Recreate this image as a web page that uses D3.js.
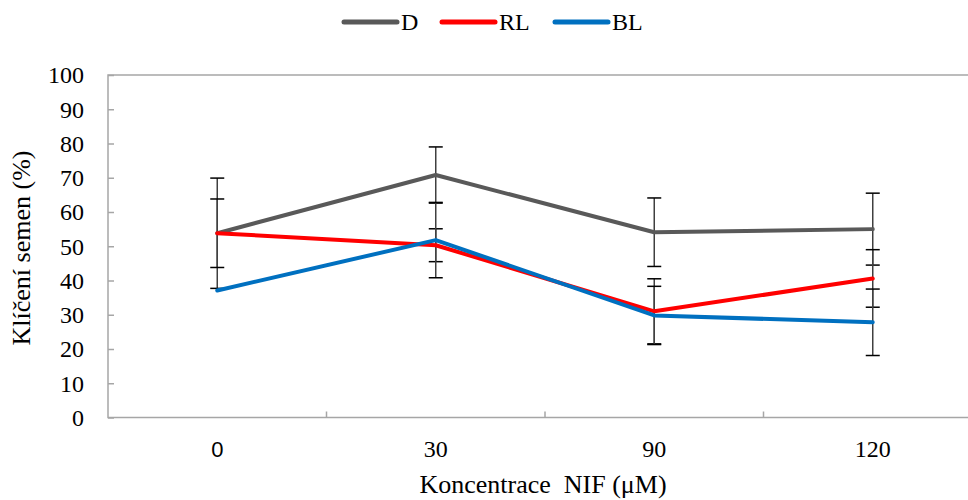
<!DOCTYPE html>
<html><head><meta charset="utf-8">
<script src="https://cdn.jsdelivr.net/npm/d3@7"></script>
<style>body{margin:0;background:#fff}svg{display:block}</style>
</head><body>
<svg id="c" width="968" height="500"></svg>
<script>
const categories = ["0", "30", "90", "120"];
const seriesNames = ["D", "RL", "BL"];
const valuesD  = [53.8, 70.8, 54.1, 55.0];
const valuesRL = [53.8, 50.3, 31.0, 40.6];
const valuesBL = [37.1, 51.8, 29.8, 27.8];
const errD  = [16.1, 8.2, 10.0, 10.5];
const errRL = [10.0, 4.8, 9.5, 8.4];
const errBL = [0, 11.0, 8.5, 9.7];
const yTicks = [0, 10, 20, 30, 40, 50, 60, 70, 80, 90, 100];
const colors = ["#595959", "#ff0000", "#0070c0"];

(function () {
const series = [
  {name: seriesNames[0], values: valuesD, err: errD, color: colors[0]},
  {name: seriesNames[1], values: valuesRL, err: errRL, color: colors[1]},
  {name: seriesNames[2], values: valuesBL, err: errBL, color: colors[2]}
];

const svg = d3.select("#c");
const pL = 108, pT = 75, pB = 417.5, pR = 982;
const font = "'Liberation Serif','Times New Roman',serif";

const x = d3.scaleBand().domain(categories).range([pL, pR]);
const y = d3.scaleLinear().domain([0, 100]).range([pB, pT]);

// frame
svg.append("path")
  .attr("d", `M${pR},${pT}H${pL}V${pB}H${pR}`)
  .attr("fill", "none").attr("stroke", "#a6a6a6").attr("stroke-width", 1.5);

// y axis
const yAxis = svg.append("g").attr("transform", `translate(${pL},0)`)
  .call(d3.axisRight(y).tickValues(yTicks).tickSize(6).tickFormat(""));
yAxis.select(".domain").remove();
yAxis.selectAll("line").attr("stroke", "#a6a6a6").attr("stroke-width", 1.5);
svg.append("g").selectAll("text").data(yTicks).join("text")
  .attr("x", 84).attr("y", d => y(d)).attr("dy", "0.35em")
  .attr("text-anchor", "end").attr("font-family", font).attr("font-size", 24)
  .attr("fill", "#000").text(d => d);

// x axis ticks between categories
const boundaries = categories.slice(1).map(c => x(c));
svg.append("g").selectAll("line").data(boundaries).join("line")
  .attr("x1", d => d).attr("x2", d => d).attr("y1", pB).attr("y2", pB - 6)
  .attr("stroke", "#a6a6a6").attr("stroke-width", 1.5);
svg.append("g").selectAll("text").data(categories).join("text")
  .attr("x", d => x(d) + x.bandwidth() / 2).attr("y", 457)
  .attr("text-anchor", "middle")
  .attr("font-family", (d, i) => i === 0 ? "'Liberation Sans',Arial,sans-serif" : font)
  .attr("font-size", (d, i) => i === 0 ? 22 : 24)
  .attr("fill", "#000").text(d => d);

const cx = c => x(c) + x.bandwidth() / 2;

// error bars
series.forEach(s => {
  const g = svg.append("g");
  s.values.forEach((v, i) => {
    if (!s.err[i]) return;
    const px = cx(categories[i]);
    g.append("line").attr("x1", px).attr("x2", px)
      .attr("y1", y(v + s.err[i])).attr("y2", y(v - s.err[i]))
      .attr("stroke", "#404040").attr("stroke-width", 1.5);
    [v + s.err[i], v - s.err[i]].forEach(e => {
      g.append("line").attr("x1", px - 7).attr("x2", px + 7)
        .attr("y1", y(e)).attr("y2", y(e))
        .attr("stroke", "#000").attr("stroke-width", 1.5);
    });
  });
});

// lines
const line = d3.line().x((d, i) => cx(categories[i])).y(d => y(d));
series.forEach(s => {
  svg.append("path").datum(s.values).attr("d", line)
    .attr("fill", "none").attr("stroke", s.color).attr("stroke-width", 4)
    .attr("stroke-linejoin", "round").attr("stroke-linecap", "round");
});

// axis titles
svg.append("text").attr("x", 543).attr("y", 493).attr("text-anchor", "middle")
  .attr("font-family", font).attr("font-size", 26).attr("fill", "#000")
  .attr("xml:space", "preserve").text("Koncentrace  NIF (μM)");
svg.append("text").attr("transform", "translate(30,248) rotate(-90)")
  .attr("text-anchor", "middle").attr("font-family", font).attr("font-size", 26)
  .attr("fill", "#000").text("Klíčení semen (%)");

// legend
const legendX = [344, 442, 555];
const lg = svg.append("g");
series.forEach((s, i) => {
  lg.append("line").attr("x1", legendX[i]).attr("x2", legendX[i] + 53)
    .attr("y1", 22).attr("y2", 22).attr("stroke", s.color).attr("stroke-width", 5)
    .attr("stroke-linecap", "round");
  lg.append("text").attr("x", legendX[i] + 57).attr("y", 22).attr("dy", "0.35em")
    .attr("font-family", font).attr("font-size", 24).attr("fill", "#000").text(s.name);
});
})();
</script>
</body></html>
